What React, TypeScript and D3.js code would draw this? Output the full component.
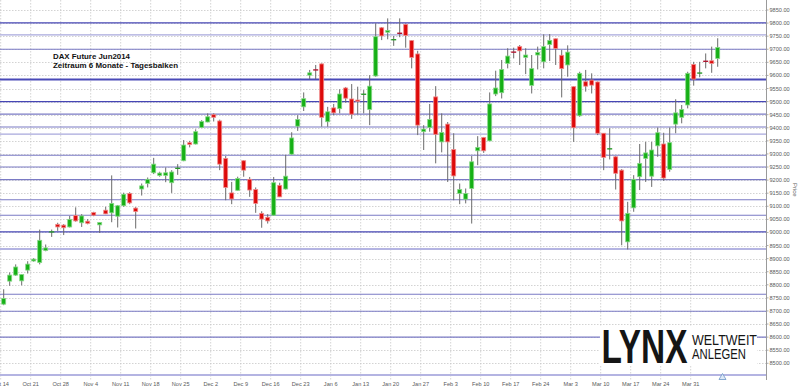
import React from "react";
import * as d3 from "d3";

// ---- data (DAX Future Jun2014, daily bars) ----
const dayLabels = [
  "Oct 14", "Oct 21", "Oct 28", "Nov 4", "Nov 11", "Nov 18", "Nov 25", "Dec 2",
  "Dec 9", "Dec 16", "Dec 23", "Jan 6", "Jan 13", "Jan 20", "Jan 27", "Feb 3",
  "Feb 10", "Feb 17", "Feb 24", "Mar 3", "Mar 10", "Mar 17", "Mar 24", "Mar 31",
];

const opens = [
  8726, 8814, 8837, 8815, 8856, 8891, 8885, 8931, 9001, 9031,
  9028, 9021, 9065, 9037, 9043, 9076, 9029, 9085, 9075, 9062,
  9102, 9149, 9093, 9166, 9187, 9228, 9218, 9218, 9190, 9243,
  9274, 9343, 9338, 9401, 9422, 9450, 9426, 9283, 9151, 9161,
  9274, 9203, 9164, 9073, 9058, 9066, 9180, 9166, 9299, 9406,
  9480, 9601, 9623, 9644, 9423, 9476, 9473, 9552, 9510, 9506,
  9526, 9470, 9598, 9782, 9765, 9735, 9763, 9795, 9733, 9682,
  9385, 9401, 9518, 9346, 9414, 9317, 9149, 9127, 9168, 9312,
  9363, 9350, 9529, 9534, 9646, 9691, 9710, 9669, 9562, 9678,
  9652, 9718, 9740, 9677, 9640, 9557, 9446, 9576, 9582, 9575,
  9379, 9318, 9289, 9238, 8964, 9094, 9213, 9283, 9215, 9331,
  9338, 9241, 9414, 9440, 9487, 9642, 9608, 9656, 9656, 9665,
];
const highs = [
  8783, 8847, 8878, 8840, 8890, 8902, 9011, 8954, 9011, 9037,
  9032, 9063, 9096, 9070, 9051, 9079, 9039, 9098, 9218, 9105,
  9152, 9154, 9097, 9187, 9210, 9285, 9232, 9248, 9238, 9261,
  9353, 9350, 9394, 9429, 9455, 9455, 9431, 9292, 9193, 9213,
  9276, 9212, 9172, 9081, 9070, 9212, 9190, 9296, 9383, 9448,
  9535, 9621, 9640, 9646, 9480, 9491, 9547, 9556, 9567, 9557,
  9544, 9601, 9799, 9785, 9818, 9751, 9818, 9798, 9735, 9694,
  9410, 9491, 9559, 9455, 9422, 9379, 9187, 9168, 9292, 9368,
  9365, 9535, 9618, 9659, 9704, 9706, 9716, 9704, 9678, 9710,
  9757, 9758, 9741, 9697, 9715, 9559, 9614, 9621, 9608, 9577,
  9380, 9398, 9292, 9242, 9117, 9219, 9338, 9346, 9346, 9401,
  9381, 9401, 9509, 9487, 9614, 9652, 9652, 9684, 9710, 9742,
];
const lows = [
  8722, 8796, 8834, 8798, 8843, 8888, 8878, 8928, 8983, 9006,
  8990, 9019, 9041, 9021, 9031, 9062, 8998, 9070, 9039, 9019,
  9098, 9108, 9015, 9141, 9172, 9223, 9213, 9192, 9151, 9220,
  9272, 9325, 9336, 9399, 9421, 9424, 9238, 9123, 9108, 9160,
  9213, 9136, 9075, 9018, 9034, 9064, 9135, 9164, 9297, 9388,
  9464, 9586, 9586, 9404, 9404, 9448, 9455, 9496, 9434, 9451,
  9455, 9410, 9595, 9735, 9738, 9713, 9746, 9706, 9627, 9372,
  9315, 9385, 9264, 9306, 9193, 9123, 9108, 9111, 9034, 9257,
  9304, 9349, 9521, 9512, 9627, 9665, 9640, 9605, 9531, 9623,
  9627, 9655, 9640, 9516, 9595, 9346, 9442, 9538, 9531, 9372,
  9238, 9279, 9164, 8951, 8935, 9079, 9162, 9193, 9174, 9289,
  9197, 9232, 9379, 9417, 9474, 9561, 9593, 9627, 9610, 9633,
];
const closes = [
  8748, 8837, 8868, 8839, 8879, 8898, 8970, 8941, 9003, 9021,
  9018, 9050, 9044, 9063, 9035, 9066, 9038, 9071, 9111, 9102,
  9146, 9113, 9080, 9178, 9203, 9261, 9227, 9228, 9231, 9247,
  9334, 9336, 9385, 9424, 9442, 9440, 9261, 9172, 9128, 9206,
  9238, 9162, 9111, 9051, 9044, 9190, 9136, 9215, 9361, 9432,
  9511, 9610, 9619, 9440, 9461, 9457, 9529, 9513, 9452, 9501,
  9530, 9559, 9748, 9751, 9772, 9738, 9759, 9753, 9669, 9410,
  9395, 9432, 9375, 9382, 9346, 9216, 9164, 9149, 9270, 9325,
  9312, 9491, 9552, 9623, 9674, 9687, 9694, 9678, 9626, 9688,
  9710, 9734, 9703, 9626, 9689, 9400, 9608, 9559, 9563, 9379,
  9287, 9321, 9226, 9044, 9073, 9203, 9264, 9304, 9315, 9381,
  9208, 9343, 9457, 9470, 9608, 9586, 9610, 9652, 9646, 9707,
];

// price axis ticks
const priceTicks = d3.range(8500, 9851, 50);

// horizontal support / resistance lines (price, tone)
const levelPrices = [9801, 9755, 9700, 9584, 9500, 9452, 9403, 9376, 9295, 9250, 9202, 9125, 9066, 9002, 8937, 8764, 8699, 8600];
const levelTones = ["dark", "light", "mid", "dark2", "dark", "mid", "mid", "light", "mid", "mid", "mid", "mid", "mid", "dark", "light2", "mid", "mid", "mid"];

const toneStyle: Record<string, { c: string; w: number }> = {
  dark: { c: "#4646b4", w: 1.2 },
  dark2: { c: "#4a4ab8", w: 2 },
  mid: { c: "#7a7ac4", w: 1.1 },
  light: { c: "#a8a8dc", w: 1.2 },
  light2: { c: "#b4b4e2", w: 2 },
};

export default function App() {
  const W = 800;
  const H = 388;
  const axisX = 766;
  const n = opens.length;

  const x = d3
    .scaleBand<number>()
    .domain(d3.range(n))
    .range([0.7, 0.7 + 6 * n])
    .padding(0);
  const bw = x.bandwidth();
  const y = d3.scaleLinear().domain([8500, 9850]).range([363.3, 10]);

  const green = "#16b016";
  const greenEdge = "#86d886";
  const red = "#dd0a0a";
  const redEdge = "#f08a8a";

  return (
    <svg
      width={W}
      height={H}
      style={{ position: "absolute", left: 0, top: 0, background: "#fff" }}
      fontFamily="'Liberation Sans', Arial, sans-serif"
    >
      <rect x={0} y={0} width={W} height={H} fill="#fff" />

      {/* horizontal dotted grid */}
      {priceTicks.map((p) => (
        <line
          key={"hg" + p}
          x1={0}
          x2={axisX}
          y1={Math.round(y(p)) + 0.5}
          y2={Math.round(y(p)) + 0.5}
          stroke="#c8c8c8"
          strokeWidth={0.8}
          strokeDasharray="1.5,1.5"
        />
      ))}
      {/* vertical dotted grid */}
      {dayLabels.map((lab, k) => {
        const xv = (x(k * 5) as number);
        return (
          <line
            key={"vg" + lab}
            x1={xv}
            x2={xv}
            y1={0}
            y2={380}
            stroke="#c8c8c8"
            strokeWidth={0.8}
            strokeDasharray="1.5,1.5"
          />
        );
      })}

      {/* support / resistance lines */}
      {levelPrices.map((p, k) => {
        const s = toneStyle[levelTones[k]];
        return (
          <line
            key={"lv" + k}
            x1={0}
            x2={axisX}
            y1={y(p)}
            y2={y(p)}
            stroke={s.c}
            strokeWidth={s.w}
          />
        );
      })}

      {/* bottom line */}
      <line x1={0} x2={axisX} y1={375} y2={375} stroke="#b4b4e2" strokeWidth={2} />

      {/* candles */}
      {opens.map((o, i) => {
        const c = closes[i];
        const hi = highs[i];
        const lo = lows[i];
        const cx = (x(i) as number) + bw / 2;
        const up = c >= o;
        const top = y(Math.max(o, c));
        const bot = y(Math.min(o, c));
        const doji = bot - top < 1.2;
        const fill = up ? green : red;
        const edge = up ? greenEdge : redEdge;
        return (
          <g key={"c" + i}>
            <line x1={cx} x2={cx} y1={y(hi)} y2={y(lo)} stroke="#6a6a6a" strokeWidth={1} />
            {doji ? (
              <line
                x1={cx - 2.5}
                x2={cx + 2.5}
                y1={(top + bot) / 2}
                y2={(top + bot) / 2}
                stroke={up ? "#2a9a2a" : "#b01530"}
                strokeWidth={1.4}
              />
            ) : (
              <rect
                x={cx - 2}
                y={top}
                width={4}
                height={bot - top}
                fill={fill}
                stroke={edge}
                strokeWidth={0.8}
              />
            )}
          </g>
        );
      })}

      {/* price axis */}
      <line x1={axisX + 0.5} x2={axisX + 0.5} y1={0} y2={380} stroke="#9a9a9a" strokeWidth={1} />
      {priceTicks.map((p) => (
        <g key={"pt" + p}>
          <line x1={axisX} x2={axisX + 2.5} y1={y(p)} y2={y(p)} stroke="#9a9a9a" strokeWidth={0.8} />
          <text x={769.5} y={y(p) + 2} fontSize={5.6} fill="#5a5a5a">
            {p.toFixed(2)}
          </text>
        </g>
      ))}
      <text
        transform="translate(793,183) rotate(90)"
        fontSize={6}
        fill="#5a5a5a"
      >
        Price
      </text>

      {/* date axis labels */}
      {dayLabels.map((lab, k) => (
        <text
          key={"dl" + lab}
          x={x(k * 5) as number}
          y={386}
          fontSize={5.6}
          fill="#5a5a5a"
          textAnchor="middle"
        >
          {lab}
        </text>
      ))}

      {/* small marker on the date axis */}
      <path d="M719,379.5 L722.5,373.5 L726,379.5 Z" fill="#dde8f6" stroke="#6d97c8" strokeWidth={0.8} />

      {/* title */}
      <text x={53} y={58.5} fontSize={7.5} fontWeight="bold" fill="#111" textLength={77} lengthAdjust="spacingAndGlyphs">
        DAX Future Jun2014
      </text>
      <text x={53} y={67.7} fontSize={7.5} fontWeight="bold" fill="#111" textLength={125} lengthAdjust="spacingAndGlyphs">
        Zeitraum 6 Monate - Tagesbalken
      </text>

      {/* LYNX logo */}
      <rect x={600} y={326} width={157} height={40} fill="#fff" />
      <text
        x={601.5}
        y={362.5}
        fontSize={49}
        fontWeight="bold"
        fill="#151515"
        fontFamily="'Liberation Sans Narrow', 'Liberation Sans', Arial, sans-serif"
        textLength={86}
        lengthAdjust="spacingAndGlyphs"
      >
        LYNX
      </text>
      <text
        x={692}
        y={344.5}
        fontSize={14.5}
        fill="#151515"
        fontFamily="'Liberation Sans Narrow', 'Liberation Sans', Arial, sans-serif"
        textLength={65}
        lengthAdjust="spacingAndGlyphs"
      >
        WELTWEIT
      </text>
      <text
        x={692}
        y={358.5}
        fontSize={14.5}
        fill="#151515"
        fontFamily="'Liberation Sans Narrow', 'Liberation Sans', Arial, sans-serif"
        textLength={54}
        lengthAdjust="spacingAndGlyphs"
      >
        ANLEGEN
      </text>
    </svg>
  );
}
